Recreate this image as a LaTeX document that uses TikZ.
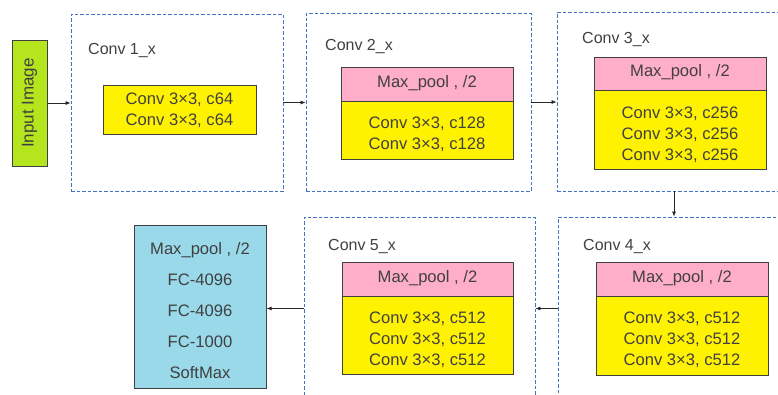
\documentclass[tikz,border=0pt]{standalone}
\usepackage{fontspec}
\setmainfont{Liberation Sans}
\usetikzlibrary{arrows.meta,calc}
\definecolor{txt}{HTML}{404040}
\definecolor{dashc}{HTML}{4472C4}
\definecolor{ingreen}{HTML}{B5E61D}
\definecolor{ylw}{HTML}{FFF200}
\definecolor{pnk}{HTML}{FFAEC9}
\definecolor{lblue}{HTML}{99D9EA}
\tikzset{
  stage/.style={draw=dashc, line width=0.8pt, dash pattern=on 3.5pt off 2pt, inner sep=0pt},
  solidbox/.style={draw=txt, line width=1pt, inner sep=0pt},
  boxtxt/.style={text=txt, font=\fontsize{16.6}{21}\selectfont, align=center, inner sep=0pt},
  lbl/.style={text=txt, font=\fontsize{16}{19}\selectfont, anchor=base west, inner sep=0pt},
  arr/.style={-{Latex[length=5pt,width=4pt]}, line width=0.7pt, draw=black!85}
}
\begin{document}
\begin{tikzpicture}[x=1pt,y=-1pt]
\useasboundingbox (0,0) rectangle (778,394);
% input
\node[solidbox, fill=ingreen, minimum width=35pt, minimum height=126pt] (in) at (29.5,103) {};
\node[boxtxt, rotate=90, font=\fontsize{17}{20}\selectfont] (intxt) at (in.center) {Input Image};
% stage 1
\node[stage, minimum width=212pt, minimum height=177pt] (c1) at (177,102.5) {};
\node[lbl] (l1) at (88,54) {Conv 1\_x};
\node[solidbox, fill=ylw, minimum width=153pt, minimum height=49pt] (y1) at (179.5,109.5) {};
\node[boxtxt] (t1) at (179.5,110.5) {Conv 3×3, c64\\Conv 3×3, c64};
% stage 2
\node[stage, minimum width=225pt, minimum height=178pt] (c2) at (418.5,102) {};
\node[lbl] (l2) at (325,50) {Conv 2\_x};
\node[solidbox, fill=pnk, minimum width=172pt, minimum height=34pt] (p2) at (427,84) {};
\node[boxtxt] (pt2) at (427,83) {Max\_pool , /2};
\node[solidbox, fill=ylw, minimum width=172pt, minimum height=58pt] (y2) at (427,130) {};
\node[boxtxt] (t2) at (427,134) {Conv 3×3, c128\\Conv 3×3, c128};
% stage 3
\node[stage, minimum width=234pt, minimum height=179pt] (c3) at (674,101.5) {};
\node[lbl] (l3) at (582,43) {Conv 3\_x};
\node[solidbox, fill=pnk, minimum width=172pt, minimum height=33pt] (p3) at (680,73.5) {};
\node[boxtxt] (pt3) at (680,72.5) {Max\_pool , /2};
\node[solidbox, fill=ylw, minimum width=172pt, minimum height=79pt] (y3) at (680,130) {};
\node[boxtxt] (t3) at (680,134.5) {Conv 3×3, c256\\Conv 3×3, c256\\Conv 3×3, c256};
% stage 4
\node[stage, minimum width=232pt, minimum height=183pt] (c4) at (674,308.5) {};
\node[lbl] (l4) at (583,250) {Conv 4\_x};
\node[solidbox, fill=pnk, minimum width=172pt, minimum height=34pt] (p4) at (682,279) {};
\node[boxtxt] (pt4) at (682,278) {Max\_pool , /2};
\node[solidbox, fill=ylw, minimum width=172pt, minimum height=79pt] (y4) at (682,335.5) {};
\node[boxtxt] (t4) at (682,340) {Conv 3×3, c512\\Conv 3×3, c512\\Conv 3×3, c512};
% stage 5
\node[stage, minimum width=231pt, minimum height=183pt] (c5) at (419.5,308.5) {};
\node[lbl] (l5) at (328,250) {Conv 5\_x};
\node[solidbox, fill=pnk, minimum width=171pt, minimum height=34pt] (p5) at (427.5,279) {};
\node[boxtxt] (pt5) at (427.5,278) {Max\_pool , /2};
\node[solidbox, fill=ylw, minimum width=171pt, minimum height=78pt] (y5) at (427.5,335) {};
\node[boxtxt] (t5) at (427.5,340) {Conv 3×3, c512\\Conv 3×3, c512\\Conv 3×3, c512};
% FC
\node[solidbox, fill=lblue, minimum width=132pt, minimum height=163pt] (fc) at (200,306.5) {};
\node[boxtxt, font=\fontsize{16.6}{31}\selectfont] (fct) at (200,311) {Max\_pool , /2\\FC-4096\\FC-4096\\FC-1000\\SoftMax};
% arrows
\draw[arr] (in.east) -- (in.east -| c1.west);
\draw[arr] (c1.east) -- (c1.east -| c2.west);
\draw[arr] (c2.east) -- (c2.east -| c3.west);
\draw[arr] (c3.south) -- (c4.north);
\draw[arr] (c4.west) -- (c5.east);
\draw[arr] (c5.west) -- (c5.west -| fc.east);
\end{tikzpicture}
\end{document}
